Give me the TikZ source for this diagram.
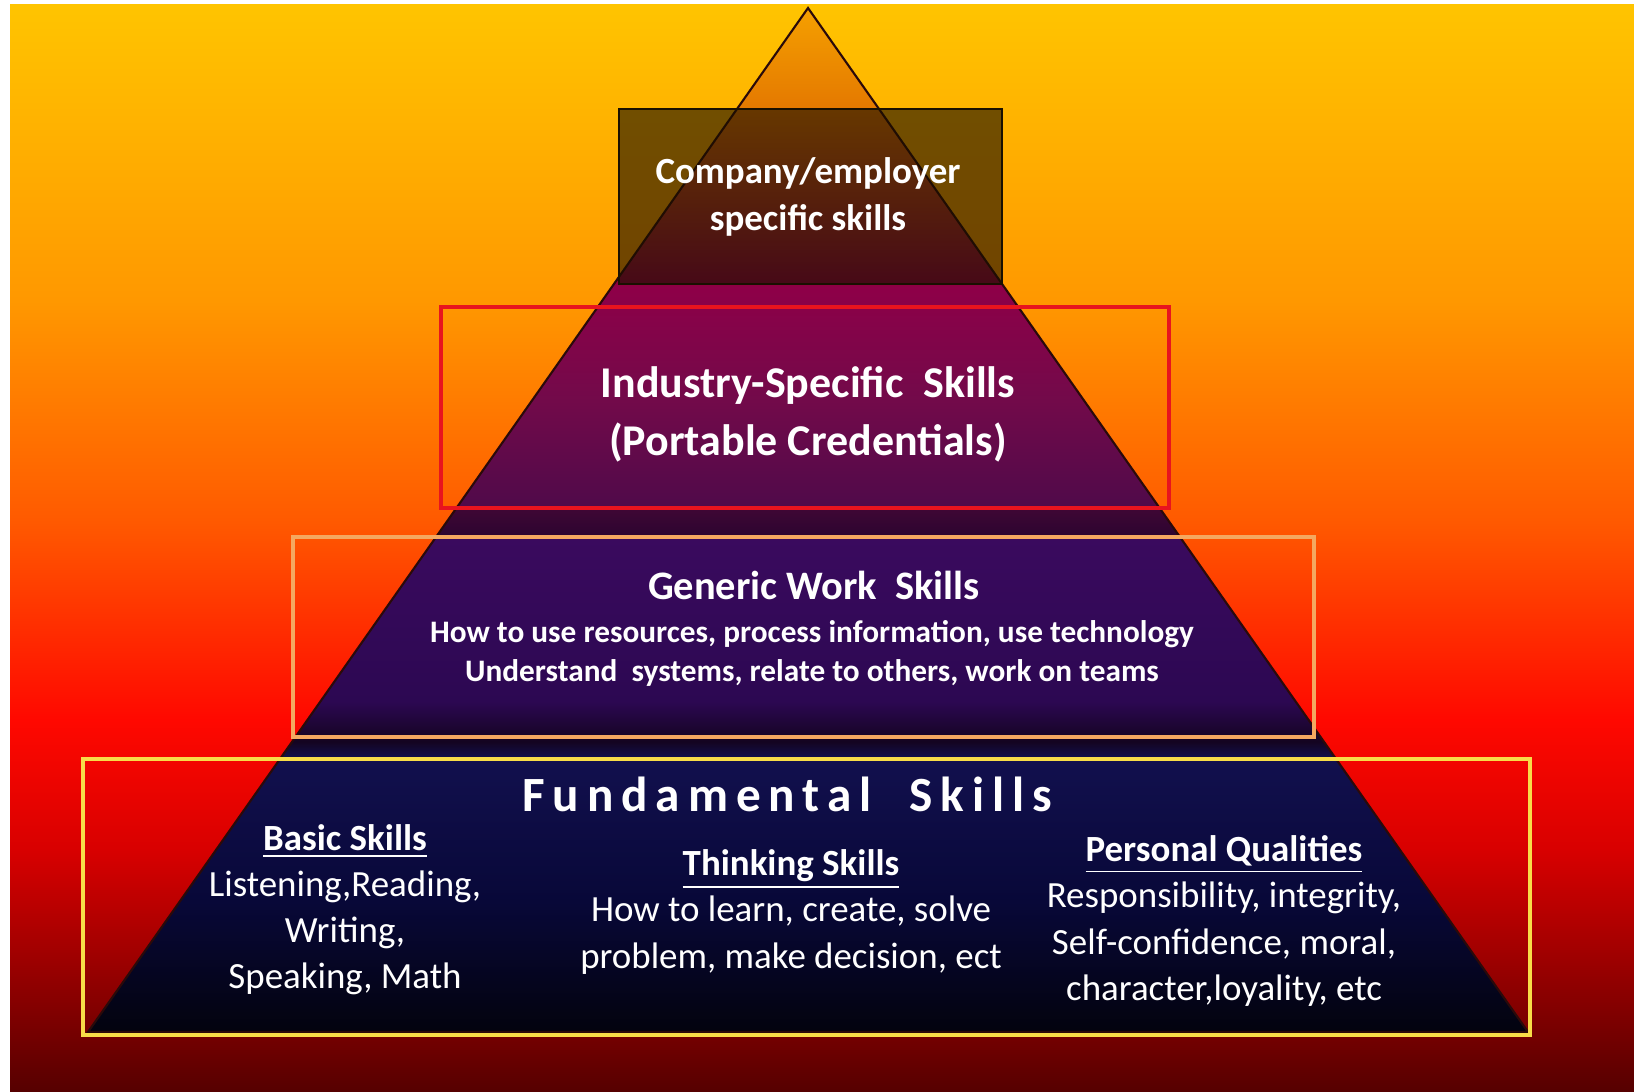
\documentclass[tikz,border=0pt]{standalone}
\usepackage{fontspec}
\usepackage{xcolor}
\setmainfont{Carlito}

\definecolor{bgA}{HTML}{FFC400}
\definecolor{bgB}{HTML}{FF9800}
\definecolor{bgC}{HTML}{FF5A00}
\definecolor{bgD}{HTML}{FF0800}
\definecolor{bgE}{HTML}{D80000}
\definecolor{bgF}{HTML}{560000}

\definecolor{pyA}{HTML}{F5A000}
\definecolor{pyB}{HTML}{E47800}
\definecolor{pyC}{HTML}{90003E}
\definecolor{pyD}{HTML}{8E0048}
\definecolor{pyE}{HTML}{720A4A}
\definecolor{pyF}{HTML}{500A4A}
\definecolor{pyG}{HTML}{3E0634}
\definecolor{pyH}{HTML}{2C0530}
\definecolor{pyI}{HTML}{3A0A5E}
\definecolor{pyJ}{HTML}{2C0852}
\definecolor{pyK}{HTML}{140420}
\definecolor{pyL}{HTML}{12104E}
\definecolor{pyM}{HTML}{080838}
\definecolor{pyN}{HTML}{03030E}

\definecolor{pyedge}{HTML}{2A0A0A}
\definecolor{boxdark}{HTML}{1A1000}
\definecolor{boxred}{HTML}{E8141E}
\definecolor{boxpeach}{HTML}{F4A860}
\definecolor{boxyellow}{HTML}{F8DC48}

\pgfdeclareverticalshading{skyback}{100bp}{color(0bp)=(bgF); color(25bp)=(bgF);
  color(36.1bp)=(bgE); color(42.1bp)=(bgD); color(51.3bp)=(bgC);
  color(61.4bp)=(bgB); color(75bp)=(bgA); color(100bp)=(bgA)}

\pgfdeclareverticalshading{pyramid}{100bp}{color(0bp)=(pyN); color(25bp)=(pyN);
  color(31.36bp)=(pyM); color(38.36bp)=(pyL); color(39.19bp)=(pyK);
  color(41.14bp)=(pyJ); color(49.07bp)=(pyI); color(49.22bp)=(pyH);
  color(50.49bp)=(pyG); color(50.68bp)=(pyF); color(55.82bp)=(pyE);
  color(61.40bp)=(pyD); color(61.55bp)=(pyC); color(70bp)=(pyB);
  color(75bp)=(pyA); color(100bp)=(pyA)}

\begin{document}
\begin{tikzpicture}[x=0.01cm,y=-0.01cm,
  lbl/.style={text=white,align=center,inner sep=0pt},
  tierbox/.style={line width=1.4pt}]
\useasboundingbox (0,0) rectangle (1634,1091);
\fill[white] (0,0) rectangle (1634,1091);
\shade[shading=skyback] (10,5) rectangle (1634,1091);
\shadedraw[shading=pyramid,draw=pyedge,line width=0.6pt] (808,8) -- (1528,1032) -- (88,1032) -- cycle;

\draw[draw=boxdark,line width=0.7pt,fill=boxdark,fill opacity=0.62] (619,109) rectangle (1002,284);
\draw[tierbox,boxred] (441,307) rectangle (1169,508);
\draw[tierbox,boxpeach] (293,537) rectangle (1314,737);
\draw[tierbox,boxyellow] (83,759) rectangle (1530,1035);

\node[lbl,font=\bfseries\fontsize{10.5}{13.4}\selectfont] (company) at (808,197) {Company/employer\\specific skills};
\node[lbl,font=\bfseries\fontsize{12.5}{16.5}\selectfont] (industry) at (808,414) {Industry-Specific\ \ Skills\\(Portable Credentials)};
\node[lbl,font=\bfseries\fontsize{11.5}{14}\selectfont] (generic) at (814,585) {Generic Work\ \ Skills};
\node[lbl,font=\bfseries\fontsize{8.9}{11.1}\selectfont] (genericlist) at (812,653) {How to use resources, process information, use technology\\Understand\ \ systems, relate to others, work on teams};
\node[lbl,font=\bfseries\fontsize{14}{17}\selectfont\addfontfeature{LetterSpace=16}] (fundamental) at (787,794) {Fundamental\ \ Skills};
\node[lbl,font=\fontsize{10.5}{13.1}\selectfont] (basic) at (345,910) {\textbf{\underline{Basic Skills}}\\Listening,Reading,\\Writing,\\Speaking, Math};
\node[lbl,font=\fontsize{10.5}{13.1}\selectfont] (thinking) at (791,912) {\textbf{\underline{Thinking Skills}}\\How to learn, create, solve\\problem, make decision, ect};
\node[lbl,font=\fontsize{10.5}{13.1}\selectfont] (personal) at (1224,921) {\textbf{\underline{Personal Qualities}}\\Responsibility, integrity,\\Self-confidence, moral,\\character,loyality, etc};
\end{tikzpicture}
\end{document}
